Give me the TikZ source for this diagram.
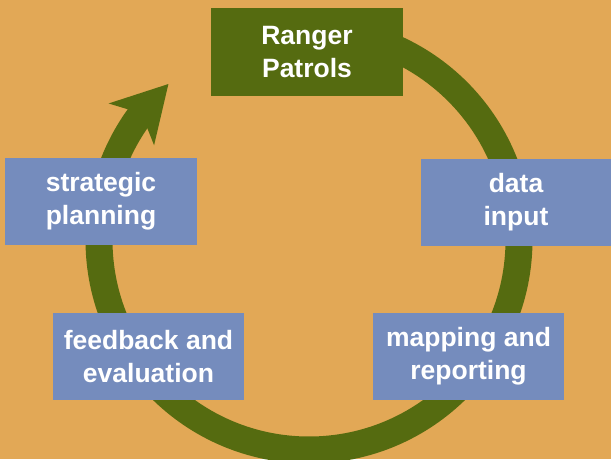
\documentclass[tikz,border=0pt]{standalone}
\usepackage{fontspec}
\setmainfont{Liberation Sans}
\usetikzlibrary{arrows.meta,bending}

\definecolor{bgorange}{HTML}{E2A856}
\definecolor{cyclegreen}{HTML}{556B10}
\definecolor{stepblue}{HTML}{758CBD}

\begin{document}
\begin{tikzpicture}[
  x=1pt, y=1pt,
  stepbox/.style={fill=stepblue,rectangle,minimum width=191pt,minimum height=87pt,
    inner sep=0pt,align=center,text=white,font=\bfseries\fontsize{26.5}{33}\selectfont},
  topbox/.style={stepbox,fill=cyclegreen,minimum width=192pt,minimum height=88pt}
]
  % background
  \fill[bgorange] (0,0) rectangle (611,459);
  \useasboundingbox (0,0) rectangle (611,459);

  % centre of the cycle
  \coordinate (c) at (309,219);

  % cycle arrow
  \draw[cyclegreen,line width=27pt,-{Stealth[length=54pt,width=60pt,inset=14pt]}]
    ([shift={(90:210)}]c) arc[start angle=90,end angle=-228,radius=210];

  % steps
  \node[topbox]   (patrols)  at (307,407)   {Ranger\\Patrols};
  \node[stepbox]  (input)    at (516,257)   [minimum width=190pt] {data\\input};
  \node[stepbox]  (mapping)  at (468.5,102.5) {mapping and\\reporting};
  \node[stepbox]  (feedback) at (148.5,102.5) {feedback and\\evaluation};
  \node[stepbox]  (planning) at (101,257.5) [minimum width=192pt] {strategic\\planning};

\end{tikzpicture}
\end{document}
